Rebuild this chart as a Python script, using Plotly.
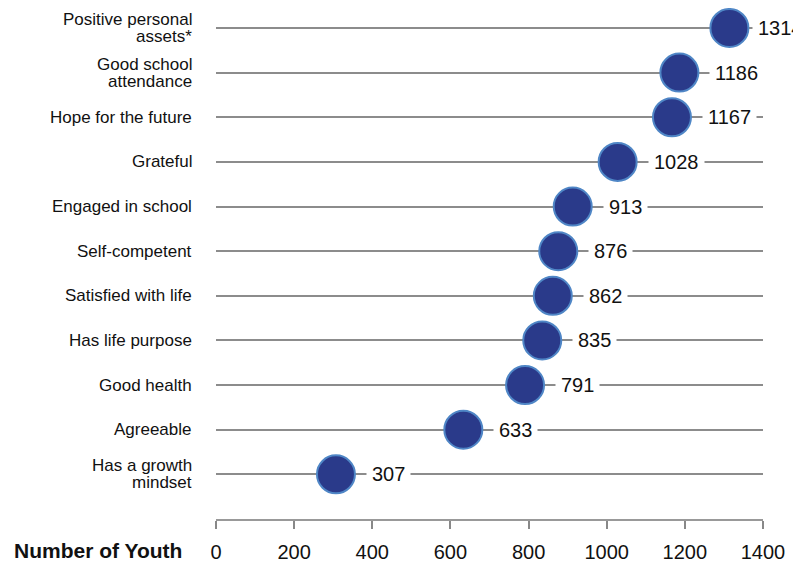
import plotly.graph_objects as go

categories = ["Positive personal<br>assets*", "Good school<br>attendance", "Hope for the future",
              "Grateful", "Engaged in school", "Self-competent", "Satisfied with life",
              "Has life purpose", "Good health", "Agreeable", "Has a growth<br>mindset"]
values = [1314, 1186, 1167, 1028, 913, 876, 862, 835, 791, 633, 307]
x_ticks = [0, 200, 400, 600, 800, 1000, 1200, 1400]
axis_title = "Number of Youth"

n = len(categories)
ypos = [n - 1 - i for i in range(n)]

FONT = "Arial, Liberation Sans, sans-serif"
GRID = "#8c8c8c"
X_MAX = 1400

fig = go.Figure()
fig.add_trace(go.Scatter(
    x=values, y=ypos, mode="markers",
    marker=dict(size=38, color="#2a3a8a", line=dict(color="#4f86c6", width=2)),
    hoverinfo="skip", showlegend=False, cliponaxis=False,
))

annotations = []
for v, y in zip(values, ypos):
    # labels beyond the last gridline sit a little closer to their marker (no white box needed)
    beyond = v > X_MAX * 0.92
    annotations.append(dict(
        x=v, y=y, xref="x", yref="y", text=str(v), showarrow=False,
        xanchor="left", yanchor="middle", xshift=23 if beyond else 30,
        bgcolor="white", borderpad=5, borderwidth=1, bordercolor="rgba(0,0,0,0)",
        font=dict(family=FONT, size=20, color="#111111"),
    ))

LINE_GAP = 17
for c, y in zip(categories, ypos):
    lines = c.split("<br>")
    k = len(lines)
    for j, ln in enumerate(lines):
        off = ((k - 1) / 2 - j) * LINE_GAP
        annotations.append(dict(
            x=0, y=y, xref="paper", yref="y", text=ln, showarrow=False,
            xanchor="right", yanchor="middle", xshift=-22, yshift=off,
            font=dict(family=FONT, size=17, color="#111111"),
        ))

annotations.append(dict(
    x=0, y=0, xref="paper", yref="paper", text="<b>" + axis_title + "</b>", showarrow=False,
    xanchor="right", yanchor="middle", xshift=-32, yshift=-31,
    font=dict(family=FONT, size=21, color="#111111"),
))

# page body has an 8px margin, so the figure is 8px smaller on each axis
fig.update_layout(
    width=793, height=559,
    margin=dict(l=207.7, r=38, t=0, b=47.5, autoexpand=False),
    paper_bgcolor="white", plot_bgcolor="white",
    showlegend=False,
    annotations=annotations,
    xaxis=dict(
        range=[0, X_MAX], tickvals=x_ticks, ticktext=[str(t) for t in x_ticks],
        showgrid=False, zeroline=False, showline=True, linecolor="#999999", linewidth=2,
        ticks="outside", ticklen=8, tickwidth=2, tickcolor="#888888",
        tickfont=dict(family=FONT, size=20, color="#111111"),
        ticklabelstandoff=6, automargin=False, fixedrange=True,
    ),
    yaxis=dict(
        range=[-1, 10.4476], tickvals=ypos, showticklabels=False,
        showgrid=True, gridcolor=GRID, gridwidth=2, zeroline=False, showline=False,
        automargin=False, fixedrange=True,
    ),
)

fig.write_html("out.html")
